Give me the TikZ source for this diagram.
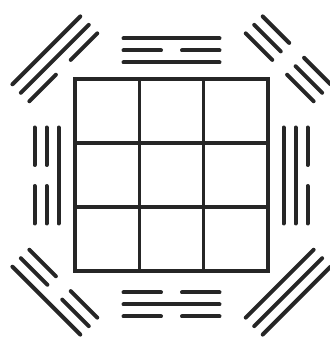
\documentclass[tikz,border=0pt]{standalone}
\usepackage{tikz}

\begin{document}
\begin{tikzpicture}[x=1pt, y=1pt,
  cell/.style={line width=3.2pt, black!85},
  yao/.style={line width=4pt, line cap=round, black!85}]
  \useasboundingbox[fill=white] (0,0) rectangle (330,341);
  \coordinate (ctr) at (171.5,165.5);
  % square of nine cells
  \draw[cell] (75,70) rectangle (268,262);
  \foreach \i in {1,2} {
    \draw[cell] (75+64.33*\i,70) -- (75+64.33*\i,262);
    \draw[cell] (75,70+64*\i) -- (268,70+64*\i);
  }
  % eight trigrams, lines listed from inner to outer (1 = whole, 0 = broken)
  \foreach \ang/\rad/\ya/\yb/\yc in {90/113/1/0/1, 45/153/0/0/0, 0/112/1/1/0,
      -45/153/1/1/1, -90/117/0/1/0, -135/153/0/0/1, 180/113/1/0/0, 135/153/0/1/1} {
    \begin{scope}[shift={(ctr)}, rotate=\ang-90]
      \foreach \k/\y in {0/\ya,1/\yb,2/\yc} {
        \ifnum\y=1
          \draw[yao] (-48,\rad+12*\k) -- (48,\rad+12*\k);
        \else
          \draw[yao] (-48,\rad+12*\k) -- (-10.5,\rad+12*\k)
                     (10.5,\rad+12*\k) -- (48,\rad+12*\k);
        \fi
      }
    \end{scope}
  }
\end{tikzpicture}
\end{document}
